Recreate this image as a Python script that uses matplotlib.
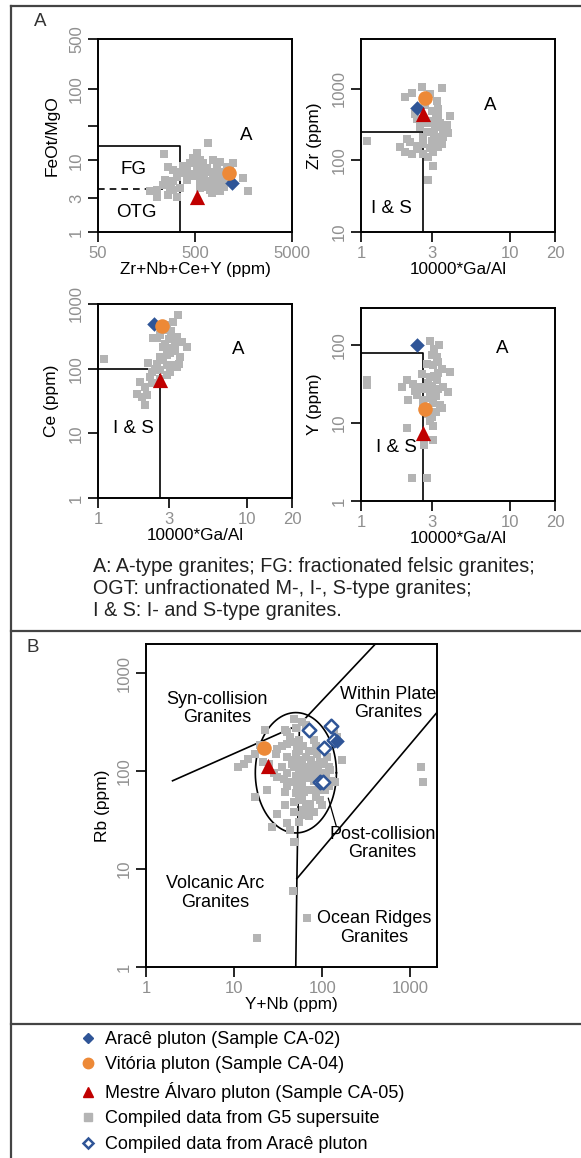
import numpy as np
import matplotlib.pyplot as plt
from matplotlib.lines import Line2D
from matplotlib.ticker import FixedLocator, FixedFormatter, NullLocator

plt.rcParams['font.family'] = ['Liberation Sans', 'DejaVu Sans']

BLUE = '#2f5597'
ORANGE = '#ed8937'
RED = '#c00000'
GREY = '#b4b4b4'
TICKC = '#8f8f8f'

# samples: CA-02 (Aracê), CA-04 (Vitória), CA-05 (Mestre Álvaro)
s_zr_sum = [1200, 1120, 525]
s_feo_mgo = [4.8, 6.7, 3.1]
s_ga_al = [2.36, 2.69, 2.62]
s_zr = [550, 750, 450]
s_ce = [490, 455, 66]
s_y = [100, 15, 7.4]
s_ynb = [148, 22, 24.5]
s_rb = [203, 172, 112]

# compiled G5 supersuite data, panel A (Zr+Nb+Ce+Y vs FeOt/MgO)
g5_zr_sum = [686, 240, 520, 481, 563, 773, 905, 1240, 265, 299, 410, 520, 660, 836,
             1060, 394, 481, 610, 773, 980, 1575, 245, 299, 410, 563, 714, 905, 236,
             276, 201, 172, 299, 350, 563, 714, 905, 1775, 265, 324, 201, 740, 660,
             1150, 445, 610, 350, 380, 450, 500, 560, 620, 700, 760, 850, 950, 1100,
             880, 540, 330, 280, 620, 800, 1000]
g5_feo_mgo = [17.4, 12.2, 12.8, 10.7, 10.2, 10.2, 9.6, 9.1, 8.2, 7.4, 7.4, 8.2, 7.8, 8.2,
              8.2, 6.6, 6.3, 6.6, 5.9, 6.3, 5.6, 5.3, 5.1, 5.3, 5.1, 5.1, 4.8, 4.5,
              4.3, 3.9, 3.7, 3.9, 4.1, 4.1, 3.9, 3.7, 3.8, 3.3, 3.1, 3.1, 3.5, 4.3,
              7.4, 9.1, 9.1, 7.0, 8.5, 6.5, 6.0, 7.2, 6.0, 6.8, 6.9, 5.5, 5.2, 5.6,
              7.0, 9.5, 5.8, 4.8, 5.5, 4.5, 4.2]

# Ga/Al vs Zr
g5_gaal_zr = [2.55, 3.48, 1.97, 2.19, 2.90, 3.22, 2.30, 3.30, 3.96, 3.76, 3.57, 3.86,
              3.39, 2.98, 3.22, 3.48, 2.76, 2.49, 2.36, 1.10, 2.03, 1.83, 1.97, 2.19,
              2.36, 2.62, 3.06, 2.83, 3.06, 2.83, 2.13, 2.62, 2.90, 3.14, 3.57, 3.30,
              2.7, 3.0, 3.2, 2.8, 3.4, 3.0, 2.6, 2.4, 2.9, 3.1, 2.5, 3.3]
g5_zr = [1070, 1040, 775, 890, 845, 680, 445, 400, 420, 316, 276, 240,
         211, 190, 170, 170, 247, 290, 379, 190, 200, 153, 131, 124,
         145, 170, 131, 111, 85, 53, 180, 124, 360, 290, 211, 153,
         600, 500, 380, 330, 330, 250, 210, 160, 150, 230, 380, 520]

# Ga/Al vs Ce
g5_gaal_ce = [3.46, 3.20, 2.89, 2.61, 3.37, 3.94, 2.48, 2.89, 3.55, 2.74, 3.20, 2.61,
              2.18, 3.04, 3.37, 2.89, 2.23, 1.91, 2.29, 2.07, 1.82, 1.96, 2.12, 2.07,
              1.10, 2.74, 2.35, 3.65, 3.04, 2.9, 3.1, 3.0, 3.3, 2.8, 3.1, 2.9, 2.6,
              3.3, 2.5, 2.9, 2.4, 3.5, 2.3, 2.6]
g5_ce = [673, 531, 395, 331, 312, 218, 294, 194, 153, 136, 114, 95,
         121, 90, 105, 80, 75, 63, 59, 52, 41, 37, 39, 27,
         142, 218, 294, 261, 172, 470, 380, 290, 250, 240, 210, 160, 150,
         190, 120, 115, 100, 120, 88, 70]

# Ga/Al vs Y
g5_gaal_y = [2.90, 3.35, 3.22, 3.30, 3.06, 3.48, 3.96, 2.90, 2.03, 1.88, 2.24, 2.49,
             3.22, 3.57, 3.86, 2.90, 2.08, 2.36, 2.62, 3.06, 3.39, 3.48, 2.98, 3.06,
             2.03, 3.06, 2.65, 2.19, 2.76, 1.10, 1.10, 2.55, 2.76, 3.1, 3.0, 3.3,
             3.1, 2.8, 3.0, 2.7, 3.3, 2.3, 2.9, 3.2, 2.6, 3.2, 2.8, 2.9]
g5_y = [113, 100, 71, 61, 55, 50, 45, 39, 36, 29, 32, 29,
        36, 29, 25, 25, 20, 23, 20, 18, 17, 15.4, 12, 9.2,
        8.7, 6.1, 5.2, 2.0, 2.0, 36, 31, 43, 58, 90, 75, 44,
        40, 33, 30, 27, 27, 26, 21, 22, 17, 14, 13, 10.5]

# panel B (Y+Nb vs Rb)
g5_ynb = [47.2, 58.7, 22.5, 38.0, 43.3, 30.5, 39.8, 51.5, 79.8, 135, 147, 86.9, 113,
          167, 11.2, 14.5, 17.3, 21.5, 39.8, 45.2, 58.7, 76.4, 94.9, 118, 30.5, 36.3,
          45.2, 58.7, 67.0, 83.2, 141, 23.5, 38.0, 61.4, 76.4, 108, 47.2, 58.7, 73.1,
          94.9, 30.5, 47.2, 58.7, 79.8, 39.8, 43.3, 26.8, 47.2, 17.3, 123, 53.8, 64.1,
          19.7, 12.8, 1320, 1370, 18.1, 46.0, 67.0, 55, 65, 70, 52, 62, 48, 100, 90,
          55, 65, 40, 50, 65, 45, 55, 60, 35, 30, 50, 70, 85, 100, 45, 55, 75, 90, 105,
          35, 40, 50, 60, 75, 80, 95, 110, 40, 55, 65, 85, 50, 60, 70, 55, 38, 28, 25,
          120, 130, 100]
g5_rb = [345, 318, 262, 262, 224, 170, 192, 177, 207, 262, 224, 151, 140,
         132, 111, 135, 151, 124, 140, 120, 124, 115, 124, 111, 87, 84,
         78, 75, 95, 95, 78, 64, 61.5, 61.5, 64, 64, 48.6, 50.6, 46.8,
         50.6, 37, 38.5, 35.6, 38.5, 29.3, 25, 27, 19, 55, 102, 102, 111,
         184, 120, 111, 78, 2.0, 6.0, 3.2, 160, 140, 85, 70, 90, 110, 95, 65,
         55, 42, 250, 280, 300, 200, 210, 180, 180, 150, 150, 160, 180, 170, 130,
         130, 130, 110, 120, 110, 95, 90, 100, 100, 80, 80, 90, 70, 75, 65, 55, 60,
         40, 35, 30, 45, 95, 120, 70, 80, 45]

# compiled Aracê pluton data
ar_ynb = [71, 126, 105, 137, 93, 103]
ar_rb = [263, 288, 172, 208, 77, 77]

fig = plt.figure(figsize=(5.81, 11.58), dpi=100)
W, H = 581.0, 1158.0


def make_ax(x0, y0, x1, y1):
    return fig.add_axes([x0 / W, 1 - y1 / H, (x1 - x0) / W, (y1 - y0) / H])


def setup(ax, xlim, ylim, xt, yt, xlabel, ylabel, ylabelpad=7):
    ax.set_xscale('log')
    ax.set_yscale('log')
    ax.set_xlim(xlim)
    ax.set_ylim(ylim)
    ax.xaxis.set_major_locator(FixedLocator(xt[0]))
    ax.xaxis.set_major_formatter(FixedFormatter(xt[1]))
    ax.yaxis.set_major_locator(FixedLocator(yt[0]))
    ax.yaxis.set_major_formatter(FixedFormatter(yt[1]))
    ax.xaxis.set_minor_locator(NullLocator())
    ax.yaxis.set_minor_locator(NullLocator())
    ax.tick_params(direction='out', length=7, width=1.2, labelsize=12,
                   labelcolor=TICKC, pad=3)
    for lab in ax.get_yticklabels():
        lab.set_rotation(90)
        lab.set_va('center')
    for sp in ax.spines.values():
        sp.set_linewidth(1.4)
    ax.set_xlabel(xlabel, fontsize=12.3, labelpad=1)
    ax.set_ylabel(ylabel, fontsize=12.5, labelpad=ylabelpad)


def samples(ax, xs, ys, ms=1.0):
    ax.scatter(xs[0], ys[0], marker='D', s=55 * ms, c=BLUE, zorder=5, linewidths=0)
    ax.scatter(xs[1], ys[1], marker='o', s=110 * ms, c=ORANGE, zorder=5, linewidths=0)
    ax.scatter(xs[2], ys[2], marker='^', s=120 * ms, c=RED, zorder=6, linewidths=0)


lk = dict(color='black', lw=1.2, zorder=2)
tk = dict(fontsize=13.5, ha='center', va='center')
SQ = 28

# ---- A1
ax1 = make_ax(98, 39, 292, 232)
setup(ax1, (50, 5000), (1, 500), ([50, 500, 5000], ['50', '500', '5000']),
      ([1, 3, 10, 30, 100, 500], ['1', '3', '10', '', '100', '500']),
      'Zr+Nb+Ce+Y (ppm)', 'FeOt/MgO')
ax1.plot([50, 350, 350], [16, 16, 1], **lk)
ax1.plot([50, 350], [4, 4], ls=(0, (4, 3)), **lk)
ax1.scatter(g5_zr_sum, g5_feo_mgo, marker='s', s=SQ, c=GREY, linewidths=0, zorder=3)
samples(ax1, s_zr_sum, s_feo_mgo)
ax1.text(1680, 22.7, 'A', **tk)
ax1.text(115, 7.4, 'FG', **tk)
ax1.text(123, 1.9, 'OTG', **tk)

# ---- A2
ax2 = make_ax(361, 39, 555, 232)
setup(ax2, (1, 20), (10, 5000), ([1, 3, 10, 20], ['1', '3', '10', '20']),
      ([10, 100, 1000], ['10', '100', '1000']), '10000*Ga/Al', 'Zr (ppm)')
ax2.plot([1, 2.6, 2.6], [250, 250, 10], **lk)
ax2.scatter(g5_gaal_zr, g5_zr, marker='s', s=SQ, c=GREY, linewidths=0, zorder=3)
samples(ax2, s_ga_al, s_zr)
ax2.text(7.3, 580, 'A', **tk)
ax2.text(1.6, 21.5, 'I & S', **tk)

# ---- A3
ax3 = make_ax(98, 304, 292, 498)
setup(ax3, (1, 20), (1, 1000), ([1, 3, 10, 20], ['1', '3', '10', '20']),
      ([1, 10, 100, 1000], ['1', '10', '100', '1000']), '10000*Ga/Al', 'Ce (ppm)')
ax3.plot([1, 2.6, 2.6], [100, 100, 1], **lk)
ax3.scatter(g5_gaal_ce, g5_ce, marker='s', s=SQ, c=GREY, linewidths=0, zorder=3)
samples(ax3, s_ga_al, s_ce)
ax3.text(8.7, 195, 'A', **tk)
ax3.text(1.72, 12, 'I & S', **tk)

# ---- A4
ax4 = make_ax(361, 308, 555, 501)
setup(ax4, (1, 20), (1, 300), ([1, 3, 10, 20], ['1', '3', '10', '20']),
      ([1, 10, 100], ['1', '10', '100']), '10000*Ga/Al', 'Y (ppm)')
ax4.plot([1, 2.6, 2.6], [80, 80, 1], **lk)
ax4.scatter(g5_gaal_y, g5_y, marker='s', s=SQ, c=GREY, linewidths=0, zorder=3)
samples(ax4, s_ga_al, s_y)
ax4.text(8.8, 91, 'A', **tk)
ax4.text(1.72, 4.9, 'I & S', **tk)

# ---- B
axb = make_ax(146, 644, 437, 967)
setup(axb, (1, 2000), (1, 2000), ([1, 10, 100, 1000], ['1', '10', '100', '1000']),
      ([1, 10, 100, 1000], ['1', '10', '100', '1000']), 'Y+Nb (ppm)', 'Rb (ppm)',
      ylabelpad=5)
axb.plot([2, 55, 400], [80, 300, 2000], **lk)
axb.plot([55, 51.5, 50], [300, 8, 1], **lk)
axb.plot([51.5, 2000], [8, 400], **lk)
t = np.linspace(0, 2 * np.pi, 200)
axb.plot(10 ** (1.70 + 0.46 * np.cos(t)), 10 ** (1.985 + 0.615 * np.sin(t)), **lk)
axb.plot([117, 144], [53, 27.5], color='black', lw=0.9, zorder=2)
axb.scatter(g5_ynb, g5_rb, marker='s', s=SQ, c=GREY, linewidths=0, zorder=3)
axb.scatter(ar_ynb, ar_rb, marker='D', s=48, facecolors='white', edgecolors=BLUE,
            linewidths=1.8, zorder=4)
samples(axb, s_ynb, s_rb)
tb = dict(fontsize=13, ha='center', va='center', linespacing=1.1)
axb.text(6.4, 437, 'Syn-collision\nGranites', **tb)
axb.text(562, 494, 'Within Plate\nGranites', **tb)
axb.text(480, 18.4, 'Post-collision\nGranites', **tb)
axb.text(6.1, 5.7, 'Volcanic Arc\nGranites', **tb)
axb.text(390, 2.5, 'Ocean Ridges\nGranites', **tb)

# panel letters and caption
fig.text(40 / W, 1 - 22 / H, 'A', fontsize=13.5, ha='center', va='center', color='#333333')
fig.text(33 / W, 1 - 647 / H, 'B', fontsize=13.5, ha='center', va='center', color='#333333')
caption = ['A: A-type granites; FG: fractionated felsic granites;',
           'OGT: unfractionated M-, I-, S-type granites;',
           'I & S: I- and S-type granites.']
for i, line in enumerate(caption):
    fig.text(93 / W, 1 - (567 + 21.5 * i) / H, line, fontsize=14.2, ha='left', va='center',
             color='#222222')

# frame lines
fr = dict(color='#444444', lw=1.6, transform=fig.transFigure)
fig.add_artist(Line2D([11 / W, 11 / W], [0, 1 - 6 / H], **fr))
fig.add_artist(Line2D([11 / W, 1], [1 - 6 / H, 1 - 6 / H], **fr))
fig.add_artist(Line2D([11 / W, 1], [1 - 631 / H, 1 - 631 / H], **fr))
fig.add_artist(Line2D([11 / W, 1], [1 - 1024 / H, 1 - 1024 / H], **fr))

# legend
handles = [
    Line2D([], [], ls='', marker='D', ms=5.5, mfc=BLUE, mec=BLUE),
    Line2D([], [], ls='', marker='o', ms=7.5, mfc=ORANGE, mec=ORANGE),
    Line2D([], [], ls='', marker='^', ms=7, mfc=RED, mec=RED),
    Line2D([], [], ls='', marker='s', ms=6, mfc=GREY, mec=GREY),
    Line2D([], [], ls='', marker='D', ms=5, mfc='white', mec=BLUE, mew=1.8),
]
labels = ['Aracê pluton (Sample CA-02)', 'Vitória pluton (Sample CA-04)',
          'Mestre Álvaro pluton (Sample CA-05)', 'Compiled data from G5 supersuite',
          'Compiled data from Aracê pluton']
fig.legend(handles, labels, loc='upper left', bbox_to_anchor=(79 / W, 1 - 1031 / H),
           frameon=False, fontsize=13, handlelength=1.0, handletextpad=0.45,
           labelspacing=0.47, borderaxespad=0, borderpad=0)

fig.savefig('out.png', dpi=100)
